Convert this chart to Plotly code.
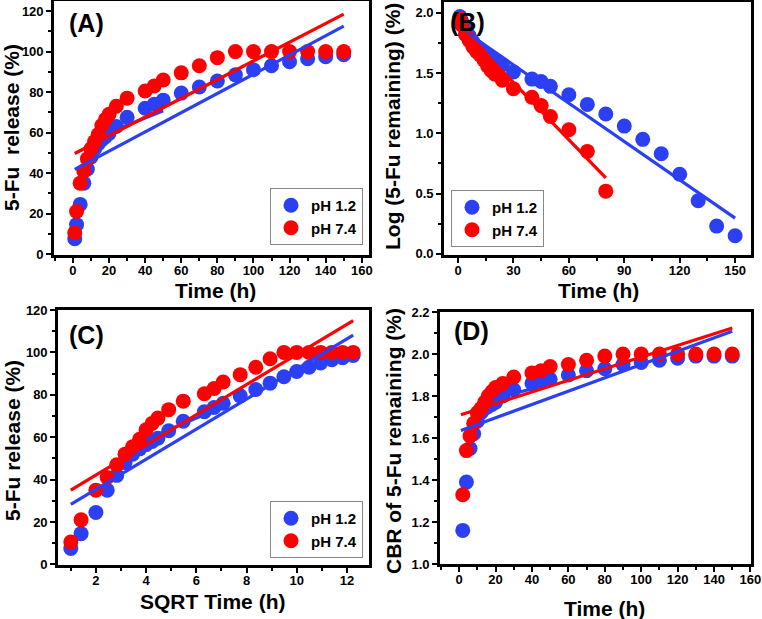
import plotly.graph_objects as go

BLUE = '#2B40F5'
RED = '#FF0000'
FONT = 'Liberation Sans, Arial, sans-serif'

# ---------------- data ----------------
time_h = [1, 2, 4, 6, 8, 10, 12, 14, 16, 18, 20, 24, 30, 40, 45, 50,
          60, 70, 80, 90, 100, 110, 120, 130, 140, 150]
sqrt_time_h = [1, 1.41, 2, 2.45, 2.83, 3.16, 3.46, 3.74, 4, 4.24, 4.47, 4.9, 5.48,
               6.32, 6.71, 7.07, 7.75, 8.37, 8.94, 9.49, 10, 10.49, 10.95, 11.4, 11.83, 12.25]

release_ph12 = [7.5, 14.5, 24.5, 35, 42, 48, 52, 54.5, 56.5, 58, 59.5, 63, 67.5,
                72, 74, 76, 79.5, 82.5, 85.5, 88.5, 91, 93, 95, 96.5, 97.5, 98.5]
release_ph74 = [10.5, 21, 35, 41, 47, 52, 55.5, 59, 63.5, 66.5, 69, 73, 77,
                80.5, 83, 86, 89.5, 93, 97, 100, 100, 100, 100, 100, 100, 100]

log_time_ph12 = [1, 2, 4, 6, 8, 10, 12, 14, 16, 18, 20, 24, 30, 40, 45, 50,
                 60, 70, 80, 90, 100, 110, 120, 130, 140, 150]
log_rem_ph12 = [1.97, 1.93, 1.88, 1.81, 1.76, 1.72, 1.68, 1.66, 1.64, 1.62, 1.61, 1.57, 1.51,
                1.45, 1.43, 1.39, 1.32, 1.24, 1.16, 1.06, 0.95, 0.83, 0.66, 0.44, 0.23, 0.15]
log_time_ph74 = [1, 2, 4, 6, 8, 10, 12, 14, 16, 18, 20, 24, 30, 40, 45, 50, 60, 70, 80]
log_rem_ph74 = [1.95, 1.90, 1.82, 1.77, 1.72, 1.68, 1.65, 1.61, 1.56, 1.52, 1.49, 1.44, 1.37,
                1.30, 1.23, 1.14, 1.03, 0.85, 0.52]

cbr_time = [2, 4, 6, 8, 10, 12, 14, 16, 18, 20, 24, 30, 40, 45, 50,
            60, 70, 80, 90, 100, 110, 120, 130, 140, 150]
cbr_ph12 = [1.16, 1.39, 1.55, 1.62, 1.68, 1.72, 1.74, 1.75, 1.76, 1.77, 1.80, 1.83,
            1.86, 1.87, 1.88, 1.90, 1.92, 1.93, 1.95, 1.96, 1.97, 1.98, 1.99, 1.99, 1.99]
cbr_ph74 = [1.33, 1.54, 1.61, 1.67, 1.72, 1.74, 1.77, 1.80, 1.82, 1.84, 1.86, 1.89,
            1.91, 1.92, 1.94, 1.95, 1.97, 1.99, 2.0, 2.0, 2.0, 2.0, 2.0, 2.0, 2.0]

# linear fits: [x_start, x_end, intercept, slope]
fit_A_ph12 = [1, 150, 41.3, 0.475]
fit_A_ph12_b = [19.4, 50, 52.8, 0.36]
fit_A_ph74 = [1, 150, 49.2, 0.462]
fit_B_ph12 = [1, 150, 1.886, -0.0106]
fit_B_ph74 = [1, 80, 1.896, -0.01582]
fit_C_ph12 = [1, 12.25, 21.2, 7.10]
fit_C_ph12_b = [4.03, 7.07, 38.4, 5.1]
fit_C_ph74 = [1, 12.25, 27.9, 7.11]
fit_D_ph12 = [1, 150, 1.633, 0.003168]
fit_D_ph12_b = [19, 50, 1.742, 0.0023]
fit_D_ph74 = [1, 150, 1.708, 0.002772]

fig = go.Figure()


def fit_line(f, color, xa, ya):
    xs = [f[0], f[1]]
    ys = [f[2] + f[3] * v for v in xs]
    fig.add_trace(go.Scatter(x=xs, y=ys, mode='lines', line=dict(color=color, width=3.2),
                             showlegend=False, xaxis=xa, yaxis=ya, hoverinfo='skip'))


def dots(x, y, color, name, xa, ya, legend=None):
    fig.add_trace(go.Scatter(x=x, y=y, mode='markers', name=name,
                             marker=dict(color=color, size=15, line=dict(width=0)),
                             showlegend=legend is not None, legend=legend or 'legend',
                             xaxis=xa, yaxis=ya))


# Panel A
dots(time_h, release_ph12, BLUE, 'pH 1.2', 'x', 'y', 'legend')
dots(time_h, release_ph74, RED, 'pH 7.4', 'x', 'y', 'legend')
fit_line(fit_A_ph12, BLUE, 'x', 'y')
fit_line(fit_A_ph12_b, BLUE, 'x', 'y')
fit_line(fit_A_ph74, RED, 'x', 'y')

# Panel B
dots(log_time_ph12, log_rem_ph12, BLUE, 'pH 1.2', 'x2', 'y2', 'legend2')
dots(log_time_ph74, log_rem_ph74, RED, 'pH 7.4', 'x2', 'y2', 'legend2')
fit_line(fit_B_ph12, BLUE, 'x2', 'y2')
fit_line(fit_B_ph74, RED, 'x2', 'y2')

# Panel C
dots(sqrt_time_h, release_ph12, BLUE, 'pH 1.2', 'x3', 'y3', 'legend3')
dots(sqrt_time_h, release_ph74, RED, 'pH 7.4', 'x3', 'y3', 'legend3')
fit_line(fit_C_ph12, BLUE, 'x3', 'y3')
fit_line(fit_C_ph12_b, BLUE, 'x3', 'y3')
fit_line(fit_C_ph74, RED, 'x3', 'y3')

# Panel D
dots(cbr_time, cbr_ph12, BLUE, 'pH 1.2', 'x4', 'y4')
dots(cbr_time, cbr_ph74, RED, 'pH 7.4', 'x4', 'y4')
fit_line(fit_D_ph12, BLUE, 'x4', 'y4')
fit_line(fit_D_ph12_b, BLUE, 'x4', 'y4')
fit_line(fit_D_ph74, RED, 'x4', 'y4')

W, H = 762, 619


def px_x(p):
    return p / W


def px_y(p):
    return 1 - p / H


def axis(domain, rng, dtick, minor, anchor, fmt=None, standoff=0):
    d = dict(domain=domain, range=rng, anchor=anchor, tick0=0, dtick=dtick,
             automargin=False, ticklabelstandoff=standoff,
             showline=True, linecolor='black', linewidth=2.6, mirror=True,
             ticks='outside', ticklen=5, tickwidth=2, tickcolor='black',
             showgrid=False, zeroline=False,
             tickfont=dict(size=13, color='black', family=FONT, weight='bold'),
             minor=dict(dtick=minor, tick0=0, ticks='outside', ticklen=3, tickwidth=2,
                        tickcolor='black', showgrid=False))
    if fmt:
        d['tickformat'] = fmt
    return d


layout = dict(
    width=W, height=H, margin=dict(l=0, r=0, t=0, b=0, autoexpand=False),
    paper_bgcolor='white', plot_bgcolor='white',
    font=dict(family=FONT, weight='bold', color='black'),
    xaxis=axis([px_x(54), px_x(369)], [-10.5, 164], 20, 10, 'y', standoff=-3),
    yaxis=axis([px_y(255), px_y(1)], [-0.5, 125], 20, 10, 'x'),
    xaxis2=axis([px_x(444), px_x(751)], [-7.6, 158.6], 30, 15, 'y2', standoff=-3),
    yaxis2=axis([px_y(255), px_y(2)], [-0.01, 2.09], 0.5, 0.25, 'x2', '.1f'),
    xaxis3=axis([px_x(58), px_x(369)], [0.49, 12.88], 2, 1, 'y3', standoff=-3),
    yaxis3=axis([px_y(565), px_y(310)], [-0.3, 120], 20, 10, 'x3'),
    xaxis4=axis([px_x(440), px_x(751)], [-10.5, 160.3], 20, 10, 'y4', standoff=-3),
    yaxis4=axis([px_y(564), px_y(312)], [1.0, 2.2], 0.2, 0.1, 'x4', '.1f'),
)

legend_common = dict(bgcolor='rgba(255,255,255,1)', bordercolor='#888888', borderwidth=1,
                     font=dict(size=15, family=FONT, weight='bold', color='black'),
                     itemsizing='trace', tracegroupgap=0)
layout['legend'] = dict(x=px_x(363), y=px_y(245), xanchor='right', yanchor='bottom', **legend_common)
layout['legend2'] = dict(x=px_x(451), y=px_y(247), xanchor='left', yanchor='bottom', **legend_common)
layout['legend3'] = dict(x=px_x(363), y=px_y(558), xanchor='right', yanchor='bottom', **legend_common)

fig.update_layout(**layout)


def note(text, x, y, size, angle=0, xanchor='center'):
    fig.add_annotation(text=text, xref='paper', yref='paper', x=px_x(x), y=px_y(y),
                       xanchor=xanchor, yanchor='middle', showarrow=False, textangle=angle,
                       font=dict(size=size, family=FONT, weight='bold', color='black'))


# panel labels
note('(A)', 67, 23, 25, xanchor='left')
note('(B)', 448, 22, 25, xanchor='left')
note('(C)', 67, 335, 25, xanchor='left')
note('(D)', 452, 331, 25, xanchor='left')

# axis titles
note('Time (h)', 215, 291, 21)
note('5-Fu  release (%)', 12, 128, 21, angle=-90)
note('Time (h)', 598, 291, 21)
note('Log (5-Fu remaining) (%)', 392, 127, 21, angle=-90)
note('SQRT Time (h)', 212, 601, 21)
note('5-Fu release (%)', 12, 441, 21, angle=-90)
note('Time (h)', 604, 608, 21)
note('CBR of 5-Fu remaining (%)', 393, 441, 21, angle=-90)

fig.write_html('out.html', config={'displayModeBar': False},
               post_script="document.body.style.margin='0';document.body.style.overflow='hidden';")
